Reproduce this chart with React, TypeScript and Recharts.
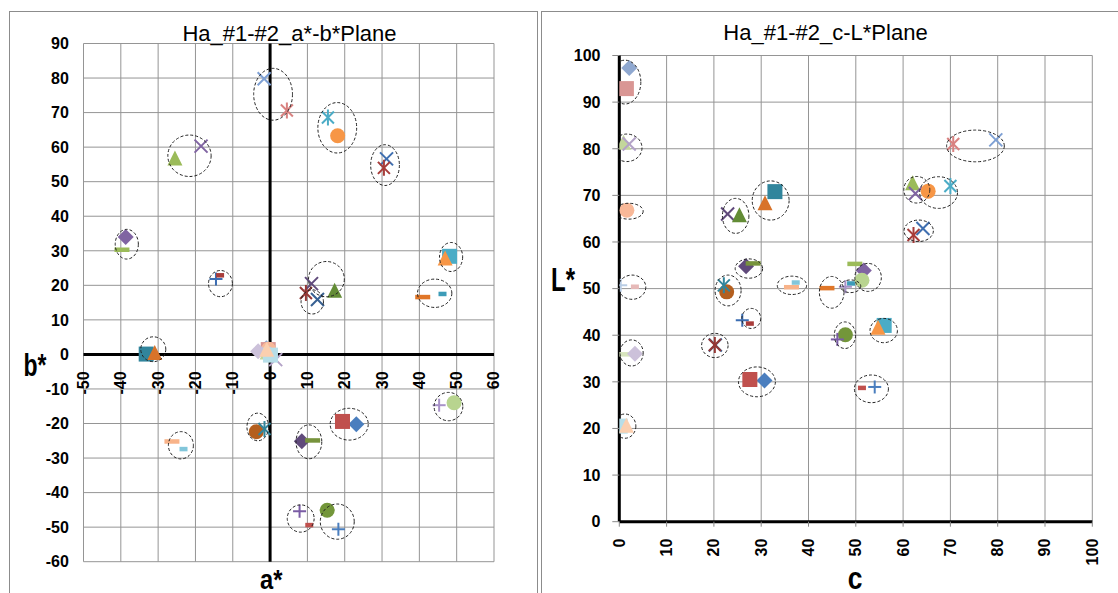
import React from 'react';
import { ScatterChart, Scatter, XAxis, YAxis, CartesianGrid, ReferenceLine } from 'recharts';

// ---------- data: one entry per measured sample (series) ----------
const SAMPLES = [
  's01', 's02', 's03', 's04', 's05', 's06', 's07', 's08', 's09', 's10',
  's11', 's12', 's13', 's14', 's15', 's16', 's17', 's18', 's19', 's20',
  's21', 's22', 's23', 's24', 's25', 's26', 's27', 's28', 's29', 's30',
  's31', 's32', 's33', 's34', 's35', 's36', 's37', 's38', 's39', 's40',
  's41', 's42', 's43', 's44', 's45', 's46', 's47',
];
const A_STAR = [
  23.1, 19.4, -25.5, -18.5, 15.5, 18.1, 18.3, 10.5, -39.7, -38.7,
  48.1, 46.9, 31.2, 30.5, 15.3, 7.9, 46.2, 40.9, 8.5, 11.4,
  -33.2, -30.9, -14.5, -13.4, 11.1, 17.3, 12.7, 9.6, -3.7, -1.5,
  -26.3, -23.2, 45.3, 49.3, -1.6, 4.5, -1.0, -0.5, -0.8, 1.5,
  -0.4, 0.0, -2.9, -1.3, -3.2, 0.1, -0.9,
];
const B_STAR = [
  -20.2, -19.4, 56.6, 60.3, 68.6, 63.3, -50.6, -49.4, 30.3, 34.0,
  28.4, 27.6, 56.6, 54.0, -45.1, -45.4, 17.5, 16.6, -25.1, -24.9,
  0.1, 0.3, 21.8, 22.9, 20.5, 18.3, 15.9, 17.8, -22.4, -21.6,
  -25.2, -27.4, -14.7, -14.0, 79.8, 70.6, 1.8, 1.4, 0.4, -1.5,
  1.5, 0.3, 1.6, 0.8, 0.9, -0.2, 1.2,
];
const C_VAL = [
  30.7, 27.6, 62.0, 62.6, 70.0, 65.3, 54.0, 51.3, 49.8, 51.7,
  56.0, 54.7, 64.2, 62.2, 47.8, 46.1, 49.0, 43.9, 26.8, 28.3,
  32.9, 30.8, 26.0, 27.6, 22.9, 25.4, 20.3, 20.2, 22.7, 22.1,
  36.4, 37.3, 47.8, 51.3, 79.6, 70.6, 2.1, 1.5, 0.9, 2.1,
  1.6, 0.3, 3.3, 1.5, 3.3, 0.2, 1.5,
];
const L_STAR = [
  30.3, 30.5, 72.5, 70.4, 72.0, 70.9, 28.9, 28.7, 55.3, 53.9,
  42.1, 41.5, 62.9, 61.5, 40.1, 39.1, 51.1, 50.1, 54.8, 55.4,
  70.8, 68.2, 43.2, 42.5, 66.0, 65.6, 37.9, 37.9, 49.3, 50.7,
  50.3, 51.3, 50.4, 51.8, 81.9, 81.0, 97.3, 92.9, 81.2, 81.0,
  66.8, 50.7, 50.4, 35.9, 36.0, 20.5, 20.5,
];

// marker kind and colour of each series (style, kept apart from the values)
const MARKER = [
  'diamond', 'square', 'triangle', 'x', 'star', 'circle', 'plus', 'shortdash', 'dash', 'diamond',
  'square', 'triangle', 'x', 'star', 'circle', 'plus', 'shortdash', 'dash', 'diamond', 'dash',
  'square', 'triangle', 'plus', 'shortdash', 'x', 'triangle', 'x', 'star', 'circle', 'star',
  'dash', 'shortdash', 'plus', 'circle', 'x', 'star', 'diamond', 'square', 'triangle', 'x',
  'circle', 'plus', 'shortdash', 'dash', 'diamond', 'square', 'triangle',
];
const COLOR = [
  '#4A7EBE', '#C0504D', '#9BBB59', '#8064A2', '#4BACC6', '#F79646', '#4A7EBE', '#C0504D', '#9BBB59', '#8064A2',
  '#4BACC6', '#F79646', '#3F6FB0', '#A83C3A', '#73963A', '#7A5CA5', '#3D9CB8', '#E07628', '#604A7B', '#77933C',
  '#31859C', '#D8732A', '#3B6DB2', '#A83C3A', '#604A7B', '#638C36', '#376092', '#953735', '#B45F1E', '#31859C',
  '#F8B389', '#82C6DA', '#A892C8', '#B8D48F', '#7EA0D4', '#D98280', '#8FA8D0', '#D99694', '#C3D69B', '#B3A2C7',
  '#F8B898', '#B9CDE5', '#E6B9B8', '#D7E4BD', '#CCC1DA', '#B7DEE8', '#FBCFAF',
];

// dashed grouping ellipses (centre and half-extent in data units)
const AB_ELL_A = [0.8, 18.0, 30.8, -21.6, -38.4, -13.3, 15.1, 11.3, 48.5, 44.1, -31.3, 47.8, -3.3, 21.2, 10.4, -23.9, 8.2, 18.0];
const AB_ELL_B = [75.3, 65.6, 54.8, 57.5, 31.9, 20.5, 21.8, 15.2, 28.2, 17.7, 1.5, -15.1, -21.0, -20.2, -25.3, -26.3, -47.5, -48.4];
const AB_ELL_RA = [5.2, 5.2, 3.85, 5.8, 3.1, 3.2, 4.8, 3.0, 3.1, 4.6, 3.35, 3.85, 2.9, 5.1, 3.45, 3.35, 3.6, 4.55];
const AB_ELL_RB = [7.5, 7.3, 5.9, 6.0, 4.3, 3.8, 5.1, 3.5, 4.2, 4.1, 3.6, 4.1, 4.0, 4.6, 4.9, 3.95, 3.95, 5.1];

const CL_ELL_C = [1.2, 1.6, 2.0, 2.7, 2.6, 1.2, 75.3, 62.9, 67.5, 63.3, 32.0, 24.6, 27.4, 23.0, 36.5, 44.9, 48.9, 52.6, 27.9, 20.2, 47.7, 55.9, 29.1, 53.3];
const CL_ELL_L = [94.3, 80.2, 66.6, 50.3, 36.2, 20.5, 80.6, 71.2, 70.6, 62.4, 68.9, 65.6, 54.3, 49.6, 50.7, 49.2, 50.5, 52.4, 43.6, 37.8, 40.0, 41.0, 30.0, 28.5];
const CL_ELL_RC = [3.35, 3.2, 3.05, 2.9, 2.45, 2.3, 6.1, 2.75, 4.0, 3.1, 3.9, 2.8, 2.9, 2.75, 3.1, 2.6, 2.15, 2.8, 2.0, 2.8, 2.25, 2.9, 3.9, 3.6];
const CL_ELL_RL = [4.7, 2.95, 1.7, 2.6, 2.8, 2.6, 3.4, 2.85, 3.4, 2.3, 4.2, 3.75, 2.07, 3.3, 1.97, 3.4, 1.36, 3.0, 2.15, 2.6, 2.85, 2.6, 3.2, 2.97];

// axis ticks
const AB_X_TICKS = [-50, -40, -30, -20, -10, 0, 10, 20, 30, 40, 50, 60];
const AB_Y_TICKS = [-60, -50, -40, -30, -20, -10, 0, 10, 20, 30, 40, 50, 60, 70, 80, 90];
const CL_TICKS = [0, 10, 20, 30, 40, 50, 60, 70, 80, 90, 100];

const TITLE_AB = 'Ha_#1-#2_a*-b*Plane';
const TITLE_CL = 'Ha_#1-#2_c-L*Plane';

// ---------- layout ----------
const FONT = '"Liberation Sans", Arial, sans-serif';
const Y_AXIS_W = 60;
type Frame = { W: number; H: number; L: number; T: number; R: number; B: number; x0: number; x1: number; y0: number; y1: number; XH: number };
const AB_FRAME: Frame = { W: 540, H: 593, L: 83.5, T: 43.5, R: 494, B: 561.7, x0: -50, x1: 60, y0: -60, y1: 90, XH: 20 };
const CL_FRAME: Frame = { W: 578, H: 593, L: 79.3, T: 55.5, R: 552.3, B: 521.7, x0: 0, x1: 100, y0: 0, y1: 100, XH: 40 };

function Marker({ cx, cy, kind, color }: { cx: number; cy: number; kind: string; color: string }) {
  switch (kind) {
    case 'diamond':
      return <polygon points={`${cx},${cy - 8} ${cx + 8},${cy} ${cx},${cy + 8} ${cx - 8},${cy}`} fill={color} />;
    case 'square':
      return <rect x={cx - 7.5} y={cy - 7.5} width={15} height={15} fill={color} />;
    case 'triangle':
      return <polygon points={`${cx},${cy - 8.5} ${cx + 7.5},${cy + 6.5} ${cx - 7.5},${cy + 6.5}`} fill={color} />;
    case 'circle':
      return <circle cx={cx} cy={cy} r={7.5} fill={color} />;
    case 'x':
      return (
        <g stroke={color} strokeWidth={2}>
          <line x1={cx - 6.5} y1={cy - 6.5} x2={cx + 6.5} y2={cy + 6.5} />
          <line x1={cx - 6.5} y1={cy + 6.5} x2={cx + 6.5} y2={cy - 6.5} />
        </g>
      );
    case 'star':
      return (
        <g stroke={color} strokeWidth={2}>
          <line x1={cx - 6} y1={cy - 6} x2={cx + 6} y2={cy + 6} />
          <line x1={cx - 6} y1={cy + 6} x2={cx + 6} y2={cy - 6} />
          <line x1={cx} y1={cy - 8} x2={cx} y2={cy + 8} />
        </g>
      );
    case 'plus':
      return (
        <g stroke={color} strokeWidth={2}>
          <line x1={cx - 6.5} y1={cy} x2={cx + 6.5} y2={cy} />
          <line x1={cx} y1={cy - 6.5} x2={cx} y2={cy + 6.5} />
        </g>
      );
    case 'dash':
      return <rect x={cx - 7.5} y={cy - 2.25} width={15} height={4.5} fill={color} />;
    case 'shortdash':
      return <rect x={cx - 4} y={cy - 2.25} width={8} height={4.5} fill={color} />;
    default:
      return null;
  }
}

function makeYTick(frame: Frame, gap: number) {
  return (p: any) => (
    <text x={frame.L - gap} y={p.y} dy="0.36em" textAnchor="end" fontFamily={FONT} fontWeight="bold" fontSize={16} fill="#000">
      {p.payload.value}
    </text>
  );
}

function makeXTick(anchorY: number) {
  return (p: any) => {
    const x = p.x + 5.5;
    return (
      <text x={x} y={anchorY} transform={`rotate(-90 ${x} ${anchorY})`} textAnchor="end" fontFamily={FONT} fontWeight="bold" fontSize={16} fill="#000">
        {p.payload.value}
      </text>
    );
  };
}

function makeEllipseShape(frame: Frame, rx: number[], ry: number[]) {
  const kx = (frame.R - frame.L) / (frame.x1 - frame.x0);
  const ky = (frame.B - frame.T) / (frame.y1 - frame.y0);
  return (p: any) => (
    <ellipse cx={p.cx} cy={p.cy} rx={rx[p.payload.i] * kx} ry={ry[p.payload.i] * ky} fill="none" stroke="#222" strokeWidth={1} strokeDasharray="3 2" />
  );
}

function PlaneChart({ frame, xs, ys, ex, ey, erx, ery, xTicks, yTicks, xTickY, yGap, withTickLines }: {
  frame: Frame; xs: number[]; ys: number[]; ex: number[]; ey: number[]; erx: number[]; ery: number[];
  xTicks: number[]; yTicks: number[]; xTickY: number; yGap: number; withTickLines: boolean;
}) {
  const margin = { top: frame.T, left: frame.L - Y_AXIS_W, right: frame.W - frame.R, bottom: frame.H - frame.B - frame.XH };
  const ellipseData = ex.map((x, i) => ({ x, y: ey[i], i }));
  const ellipseShape = makeEllipseShape(frame, erx, ery);
  return (
    <ScatterChart width={frame.W} height={frame.H} margin={margin}>
      <CartesianGrid stroke="#959595" strokeWidth={1} />
      <XAxis
        type="number" dataKey="x" domain={[frame.x0, frame.x1]} ticks={xTicks} interval={0}
        height={frame.XH} axisLine={false}
        tickLine={withTickLines ? { stroke: '#888' } : false} tickSize={withTickLines ? 5 : 0}
        tick={makeXTick(xTickY)} allowDataOverflow
      />
      <YAxis
        type="number" dataKey="y" domain={[frame.y0, frame.y1]} ticks={yTicks} interval={0}
        width={Y_AXIS_W} axisLine={false}
        tickLine={withTickLines ? { stroke: '#888' } : false} tickSize={withTickLines ? 7 : 0}
        tick={makeYTick(frame, yGap)} allowDataOverflow
      />
      <ReferenceLine x={0} stroke="#000" strokeWidth={3} />
      <ReferenceLine y={0} stroke="#000" strokeWidth={3} />
      {SAMPLES.map((name, i) => (
        <Scatter
          key={name}
          name={name}
          data={[{ x: xs[i], y: ys[i], i }]}
          isAnimationActive={false}
          shape={(p: any) => <Marker cx={p.cx} cy={p.cy} kind={MARKER[p.payload.i]} color={COLOR[p.payload.i]} />}
        />
      ))}
      <Scatter name="groups" data={ellipseData} isAnimationActive={false} shape={ellipseShape} />
    </ScatterChart>
  );
}

export default function App() {
  const abZeroY = AB_FRAME.T + (AB_FRAME.B - AB_FRAME.T) * (AB_FRAME.y1 - 0) / (AB_FRAME.y1 - AB_FRAME.y0);
  return (
    <div style={{ position: 'absolute', left: 0, top: 0, width: 1118, height: 593, background: '#fff', overflow: 'hidden', fontFamily: FONT }}>
      <div style={{ position: 'absolute', left: 9, top: 11, width: 529, height: 600, border: '1.5px solid #8c8c8c', boxSizing: 'border-box' }} />
      <div style={{ position: 'absolute', left: 540.5, top: 11, width: 600, height: 600, border: '1.5px solid #8c8c8c', boxSizing: 'border-box' }} />
      <div style={{ position: 'absolute', left: 0, top: 0 }}>
        <PlaneChart
          frame={AB_FRAME} xs={A_STAR} ys={B_STAR}
          ex={AB_ELL_A} ey={AB_ELL_B} erx={AB_ELL_RA} ery={AB_ELL_RB}
          xTicks={AB_X_TICKS} yTicks={AB_Y_TICKS} xTickY={abZeroY + 17} yGap={14.6} withTickLines={false}
        />
      </div>
      <div style={{ position: 'absolute', left: 540, top: 0 }}>
        <PlaneChart
          frame={CL_FRAME} xs={C_VAL} ys={L_STAR}
          ex={CL_ELL_C} ey={CL_ELL_L} erx={CL_ELL_RC} ery={CL_ELL_RL}
          xTicks={CL_TICKS} yTicks={CL_TICKS} xTickY={CL_FRAME.B + 17} yGap={18.8} withTickLines={true}
        />
      </div>
      <svg width={1118} height={593} style={{ position: 'absolute', left: 0, top: 0, pointerEvents: 'none' }}>
        <text x={289.5} y={40.5} textAnchor="middle" fontFamily={FONT} fontSize={22} fill="#000">{TITLE_AB}</text>
        <text x={825.5} y={39.5} textAnchor="middle" fontFamily={FONT} fontSize={22} fill="#000">{TITLE_CL}</text>
        <text x={23.4} y={376} fontFamily={FONT} fontWeight="bold" fontSize={32} textLength={23} lengthAdjust="spacingAndGlyphs" fill="#000">b*</text>
        <text x={260} y={588.5} fontFamily={FONT} fontWeight="bold" fontSize={28} textLength={22.4} lengthAdjust="spacingAndGlyphs" fill="#000">a*</text>
        <text x={551} y={290.5} fontFamily={FONT} fontWeight="bold" fontSize={33} textLength={24} lengthAdjust="spacingAndGlyphs" fill="#000">L*</text>
        <text x={847.8} y={588.5} fontFamily={FONT} fontWeight="bold" fontSize={31} textLength={14.7} lengthAdjust="spacingAndGlyphs" fill="#000">c</text>
      </svg>
    </div>
  );
}
